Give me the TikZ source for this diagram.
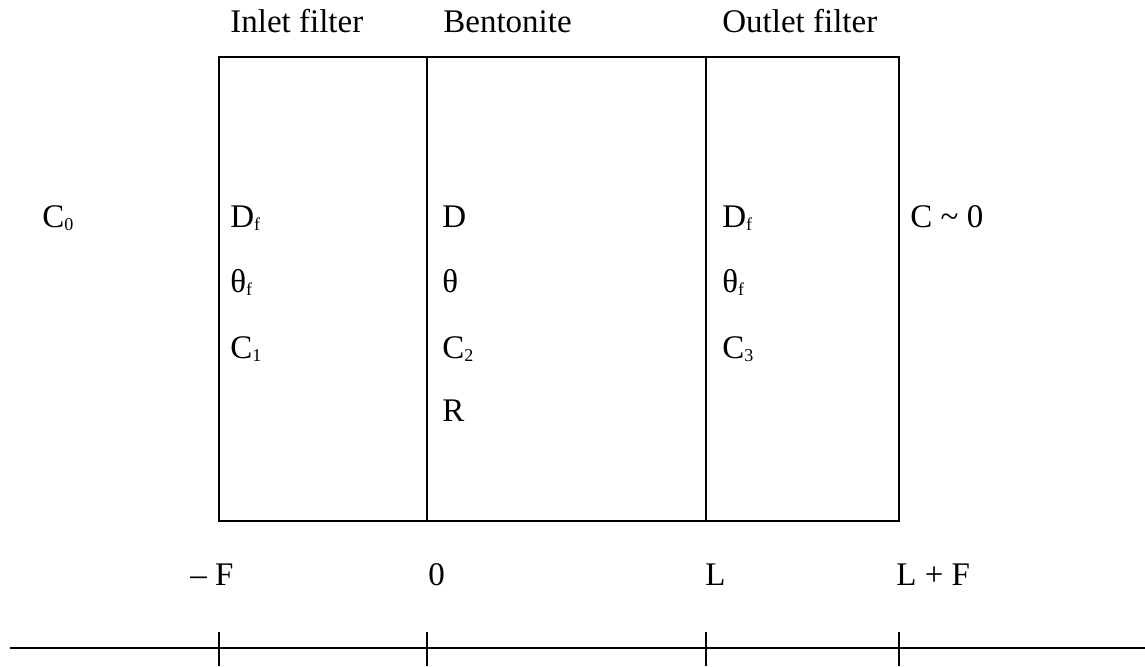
\documentclass[tikz,border=0pt]{standalone}
\usepackage{fontspec}
\setmainfont{Liberation Serif}
\usetikzlibrary{positioning}

% small lowered index, as in the cell sketch
\newcommand{\lidx}[1]{\raisebox{-1.5pt}{\fontsize{9}{10}\selectfont #1}}

\begin{document}
\begin{tikzpicture}[x=0.5pt, y=-0.5pt,
        txt/.style={anchor=base west, inner sep=0pt, font=\fontsize{16.5}{20}\selectfont},
        wall/.style={line width=0.7pt}]
        \useasboundingbox (0,0) rectangle (1145,666);

        % column corners (-F, 0, L, L+F)
        \coordinate (ftop) at (219,57);   \coordinate (fbot) at (219,521);
        \coordinate (ztop) at (427,57);   \coordinate (zbot) at (427,521);
        \coordinate (ltop) at (706,57);   \coordinate (lbot) at (706,521);
        \coordinate (etop) at (899,57);   \coordinate (ebot) at (899,521);

        % cell outline and the two inner walls
        \draw[wall] (ftop) rectangle (ebot);
        \draw[wall] (ztop) -- (zbot);
        \draw[wall] (ltop) -- (lbot);

        % region names
        \node[txt] (inlet)  at (230,32) {Inlet filter};
        \node[txt] (bento)  at (443,32) {Bentonite};
        \node[txt] (outlet) at (722,32) {Outlet filter};

        % boundary concentrations
        \node[txt] (czero) at (42,227)  {C\lidx{0}};
        \node[txt] (cend)  at (910,227) {C \textasciitilde{} 0};

        % inlet filter
        \node[txt] (dfin) at (230,227) {D\lidx{f}};
        \node[txt] (tfin) at (230,292) {θ\lidx{f}};
        \node[txt] (cone) at (230,358) {C\lidx{1}};

        % bentonite
        \node[txt] (dben) at (442,227) {D};
        \node[txt] (tben) at (442,292) {θ};
        \node[txt] (ctwo) at (442,358) {C\lidx{2}};
        \node[txt] (rben) at (442,421) {R};

        % outlet filter
        \node[txt] (dfout) at (722,227) {D\lidx{f}};
        \node[txt] (tfout) at (722,292) {θ\lidx{f}};
        \node[txt] (cthr)  at (722,358) {C\lidx{3}};

        % x axis with ticks
        \coordinate (axl) at (10,648);
        \coordinate (axr) at (1145,648);
        \draw[wall] (axl) -- (axr);
        \foreach \x/\nm in {219/mf,427/zr,706/el,899/elf} {
            \draw[wall] (\x,632) coordinate (t\nm) -- (\x,666);
        }

        % axis positions
        \node[txt] (pmf)  at (190,585) {– F};
        \node[txt] (pzr)  at (428,585) {0};
        \node[txt] (pel)  at (705,585) {L};
        \node[txt] (pelf) at (896,585) {L + F};

    \end{tikzpicture}
\end{document}
